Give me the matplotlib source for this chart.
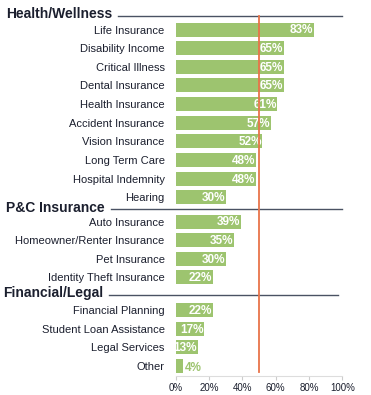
import numpy as np
import matplotlib.pyplot as plt
from matplotlib.transforms import blended_transform_factory

plt.rcParams["font.family"] = ["Liberation Sans", "DejaVu Sans"]

groups = ["Health/Wellness", "P&C Insurance", "Financial/Legal"]
health = ["Life Insurance", "Disability Income", "Critical Illness", "Dental Insurance",
          "Health Insurance", "Accident Insurance", "Vision Insurance", "Long Term Care",
          "Hospital Indemnity", "Hearing"]
health_vals = [83, 65, 65, 65, 61, 57, 52, 48, 48, 30]
pc = ["Auto Insurance", "Homeowner/Renter Insurance", "Pet Insurance", "Identity Theft Insurance"]
pc_vals = [39, 35, 30, 22]
fin = ["Financial Planning", "Student Loan Assistance", "Legal Services", "Other"]
fin_vals = [22, 17, 13, 4]
ticks = [0, 20, 40, 60, 80, 100]
avg = 50

green = "#9dc46f"
orange = "#e8744a"
dark = "#1b1f2e"

# row positions with extra space before each group header
gaps = [0, 0.3, 0.75]
labels, vals, ypos, first = [], [], [], []
y = 0
for g, (names, vs) in enumerate([(health, health_vals), (pc, pc_vals), (fin, fin_vals)]):
    y += gaps[g]
    first.append(y)
    for n_, v in zip(names, vs):
        labels.append(n_)
        vals.append(v)
        ypos.append(y)
        y += 1
head_y = [first[0] - 0.83, first[1] - 0.75, first[2] - 0.9]

fig = plt.figure(figsize=(3.71, 3.95), dpi=100)
ax = fig.add_axes([0.474, 0.048, 0.449, 0.939])
ax.barh(ypos, vals, height=0.75, color=green)
ax.set_ylim(18.59, -1.31)
ax.set_xlim(0, 100)

for yy, v in zip(ypos, vals):
    if v >= 10:
        ax.text(v - 0.5, yy + 0.05, f"{v}%", ha="right", va="center", color="white",
                fontsize=8.5, fontweight="bold")
    else:
        ax.text(v + 1.5, yy + 0.1, f"{v}%", ha="left", va="center", color=green,
                fontsize=8.5, fontweight="bold")

ax.set_yticks(ypos)
ax.set_yticklabels(labels, fontsize=8, color=dark)
ax.tick_params(axis="y", length=0, pad=8)
ax.set_xticks(ticks)
ax.set_xticklabels([f"{t}%" for t in ticks], fontsize=7, color=dark)
ax.tick_params(axis="x", length=3, color="#cccccc", pad=2)
for s in ["top", "right", "left"]:
    ax.spines[s].set_visible(False)
ax.spines["bottom"].set_color("#dddddd")

ax.plot([avg, avg], [-0.72, 18.4], color=orange, lw=1.3, clip_on=False, zorder=5)

trans = blended_transform_factory(fig.transFigure, ax.transData)
ltrans = blended_transform_factory(ax.transAxes, ax.transData)
xs = [6 / 371, 6 / 371, 3 / 371]
line_end = [1.0, 1.0, 0.975]
fig.canvas.draw()
renderer = fig.canvas.get_renderer()
for g in range(3):
    t = ax.text(xs[g], head_y[g], groups[g], transform=trans, fontsize=10,
                fontweight="bold", color=dark, va="center", ha="left")
    bb = t.get_window_extent(renderer)
    x0 = ax.transAxes.inverted().transform((bb.x1 + 6, 0))[0]
    ax.plot([x0, line_end[g]], [head_y[g] + 0.1] * 2, color="#4a5263", lw=1,
            transform=ltrans, clip_on=False)

fig.savefig("out.png", dpi=100)
